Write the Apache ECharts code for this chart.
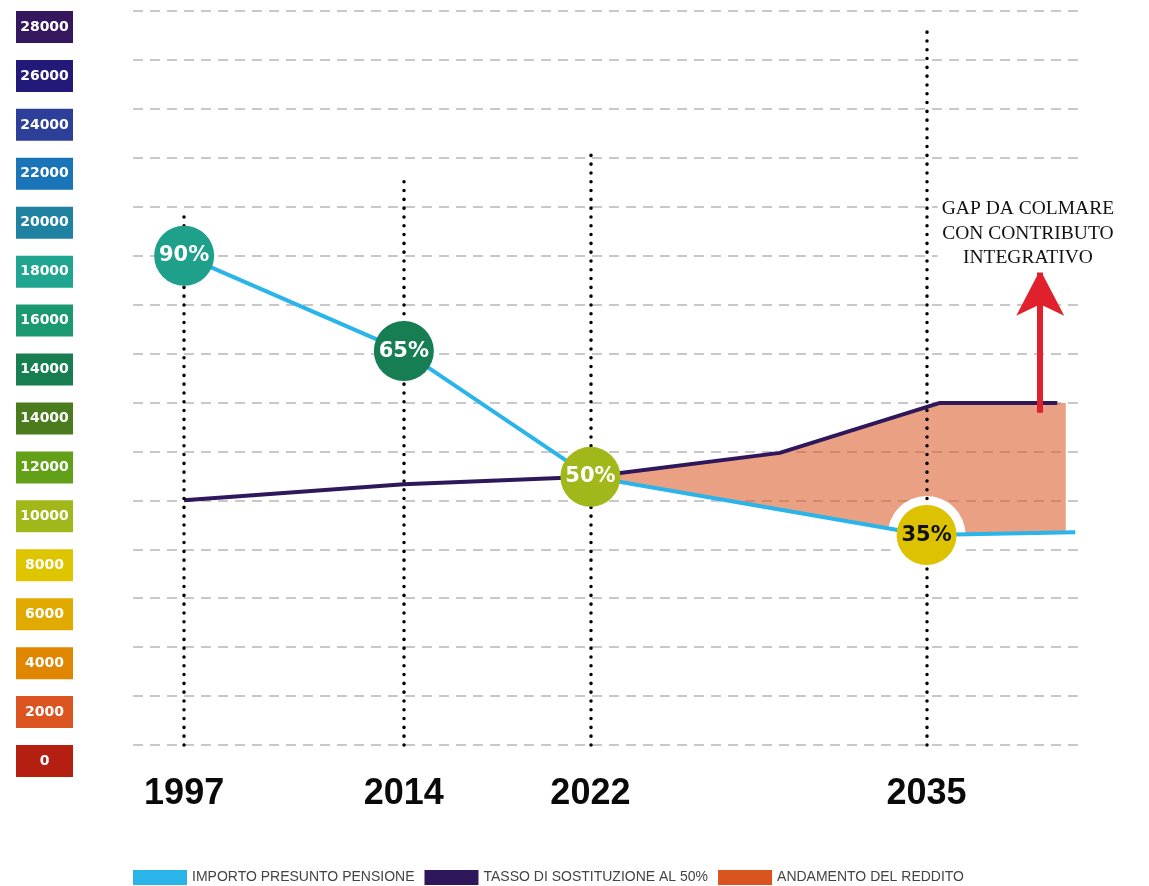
<!DOCTYPE html>
<html>
<head>
<meta charset="utf-8">
<title>Gap pensione</title>
<script src="https://cdn.jsdelivr.net/npm/echarts@6/dist/echarts.min.js"></script>
<style>
  html, body { margin: 0; padding: 0; background: #fff; }
  #chart { width: 1149px; height: 886px; }
</style>
</head>
<body>
<div id="chart"></div>
<script>
// etichette asse Y dal basso verso l'alto (14000 ripetuto come nell'originale)
const yTickLabels = ['0', '2000', '4000', '6000', '8000', '10000', '12000', '14000',
  '14000', '16000', '18000', '20000', '22000', '24000', '26000', '28000'];
const yTickColors = ['#b51f12', '#dc5520', '#e08600', '#e0aa00', '#dfc400', '#a2b81a',
  '#62a018', '#4a7c1e', '#177e52', '#1b9a72', '#20a590', '#1e82a0', '#1a74b8',
  '#2e3f9a', '#231978', '#35175e'];

// anni e loro posizione sulla linea del tempo (0-100)
const years = ['1997', '2014', '2022', '2035'];
const yearPos = [5.4, 28.6, 48.3, 83.8];
// fin dove arriva la linea puntinata di ogni anno
const yearLineTop = [10.97, 11.55, 12.22, 14.65];

// importo presunto pensione
const pensioneX = [5.4, 28.6, 48.3, 83.8, 99.5];
const pensioneY = [10.0, 8.05, 5.48, 4.29, 4.35];

// tasso di sostituzione al 50%
const tassoX = [5.4, 28.6, 48.3, 68.3, 85.2, 97.6];
const tassoY = [5.0, 5.33, 5.48, 5.97, 6.99, 6.99];

// andamento del reddito: area fra le due linee
const redditoX = [48.3, 68.3, 83.8, 85.2, 98.5];
const redditoTop = [5.48, 5.97, 6.9, 6.99, 6.99];
const redditoBottom = [5.48, 4.81, 4.29, 4.3, 4.35];

// tassi nei cerchi
const rateLabels = ['90%', '65%', '50%', '35%'];
const rateY = [10.0, 8.05, 5.48, 4.29];
const rateColors = ['#1fa08a', '#167e52', '#a2b81a', '#dcc200'];
const rateTextColors = ['#fff', '#fff', '#fff', '#111'];

// freccia del gap
const gapX = 95.8;
const gapFrom = 6.79;
const gapTo = 9.71;
const gapText = 'GAP DA COLMARE\nCON CONTRIBUTO\nINTEGRATIVO';

const chart = echarts.init(document.getElementById('chart'));

const rich = {};
yTickColors.forEach((c, i) => {
  rich['c' + i] = {
    backgroundColor: c,
    color: '#fff',
    width: 57,
    height: 32,
    lineHeight: 32,
    align: 'center',
    fontSize: 14,
    fontWeight: 'bold',
    fontFamily: 'DejaVu Sans',
  };
});

const zip = (xs, ys) => xs.map((x, i) => [x, ys[i]]);

chart.setOption({
  animation: false,
  grid: { left: 133, right: 69, top: 11, bottom: 141 },
  xAxis: {
    type: 'value',
    min: 0,
    max: 100,
    axisLine: { show: false },
    axisTick: { show: false },
    splitLine: { show: false },
    axisLabel: {
      customValues: yearPos,
      formatter: (v) => years[yearPos.indexOf(v)] || '',
      fontSize: 36,
      fontWeight: 'bold',
      fontFamily: 'Liberation Sans',
      color: '#0a0a0a',
      margin: 49,
      verticalAlign: 'middle',
    },
  },
  yAxis: {
    type: 'value',
    min: 0,
    max: 15,
    interval: 1,
    axisLine: { show: false },
    axisTick: { show: false },
    splitLine: {
      lineStyle: { color: '#c8c8c8', width: 2, type: [10, 7] },
    },
    axisLabel: {
      margin: 60,
      align: 'right',
      verticalAlign: 'top',
      formatter: (v) => '{c' + v + '|' + yTickLabels[v] + '}',
      rich,
    },
  },
  legend: {
    left: 128,
    top: 865,
    icon: 'rect',
    itemWidth: 54,
    itemHeight: 15,
    itemGap: 10,
    selectedMode: false,
    textStyle: { fontSize: 14, color: '#444', fontFamily: 'Liberation Sans' },
    data: [
      { name: 'IMPORTO PRESUNTO PENSIONE' },
      { name: 'TASSO DI SOSTITUZIONE AL 50%' },
      { name: 'ANDAMENTO DEL REDDITO', itemStyle: { color: '#d9541e', opacity: 1 } },
    ],
  },
  series: [
    // linee puntinate degli anni
    {
      type: 'line',
      data: [],
      z: 1,
      silent: true,
      markLine: {
        silent: true,
        symbol: ['none', 'none'],
        label: { show: false },
        lineStyle: { color: '#000', width: 3.5, type: [0.1, 8.7], cap: 'round' },
        data: yearPos.map((x, i) => [{ coord: [x, 0] }, { coord: [x, yearLineTop[i]] }]),
      },
    },
    // area fra tasso e pensione
    {
      name: 'ANDAMENTO DEL REDDITO',
      type: 'custom',
      silent: true,
      z: 2,
      itemStyle: { color: '#d9541e' },
      encode: { x: 0, y: [1, 2] },
      data: redditoX.map((x, i) => [x, redditoTop[i], redditoBottom[i]]),
      renderItem: (params, api) => {
        if (params.dataIndex !== 0) return null;
        const top = redditoX.map((x, i) => api.coord([x, redditoTop[i]]));
        const bottom = redditoX.map((x, i) => api.coord([x, redditoBottom[i]])).reverse();
        return {
          type: 'polygon',
          shape: { points: top.concat(bottom) },
          style: { fill: '#d9541e', opacity: 0.55 },
        };
      },
    },
    // alone bianco attorno al 35%
    {
      type: 'scatter',
      data: [[yearPos[3], rateY[3]]],
      symbolSize: 78,
      itemStyle: { color: '#fff', opacity: 1 },
      silent: true,
      z: 3,
    },
    {
      name: 'TASSO DI SOSTITUZIONE AL 50%',
      type: 'line',
      data: zip(tassoX, tassoY),
      symbol: 'none',
      color: '#2f175c',
      lineStyle: { color: '#2f175c', width: 4 },
      silent: true,
      z: 4,
    },
    {
      name: 'IMPORTO PRESUNTO PENSIONE',
      type: 'line',
      data: zip(pensioneX, pensioneY),
      symbol: 'none',
      color: '#2ab4ea',
      lineStyle: { color: '#2ab4ea', width: 4 },
      silent: true,
      z: 4,
    },
    {
      type: 'scatter',
      symbolSize: 60,
      silent: true,
      z: 5,
      data: rateLabels.map((t, i) => ({
        value: [yearPos[i], rateY[i]],
        itemStyle: { color: rateColors[i], opacity: 1 },
        label: { color: rateTextColors[i] },
      })),
      label: {
        show: true,
        position: 'inside',
        formatter: (p) => rateLabels[p.dataIndex],
        fontSize: 21,
        fontWeight: 'bold',
        fontFamily: 'DejaVu Sans',
      },
    },
    // freccia e testo del gap
    {
      type: 'line',
      data: [],
      z: 6,
      silent: true,
      markLine: {
        silent: true,
        symbol: ['none', 'arrow'],
        symbolSize: [36, 46],
        label: { show: false },
        lineStyle: { color: '#e0202c', width: 6, type: 'solid', opacity: 1 },
        data: [[{ coord: [gapX, gapFrom] }, { coord: [gapX, gapTo] }]],
      },
      markPoint: {
        silent: true,
        symbol: 'circle',
        symbolSize: 0,
        label: {
          show: true,
          position: 'inside',
          formatter: gapText,
          fontFamily: 'Liberation Serif',
          fontSize: 19.5,
          lineHeight: 24.5,
          color: '#111',
          backgroundColor: '#fff',
          padding: [2, 4],
        },
        data: [{ coord: [94.5, 10.45] }],
      },
    },
  ],
});
</script>
</body>
</html>
